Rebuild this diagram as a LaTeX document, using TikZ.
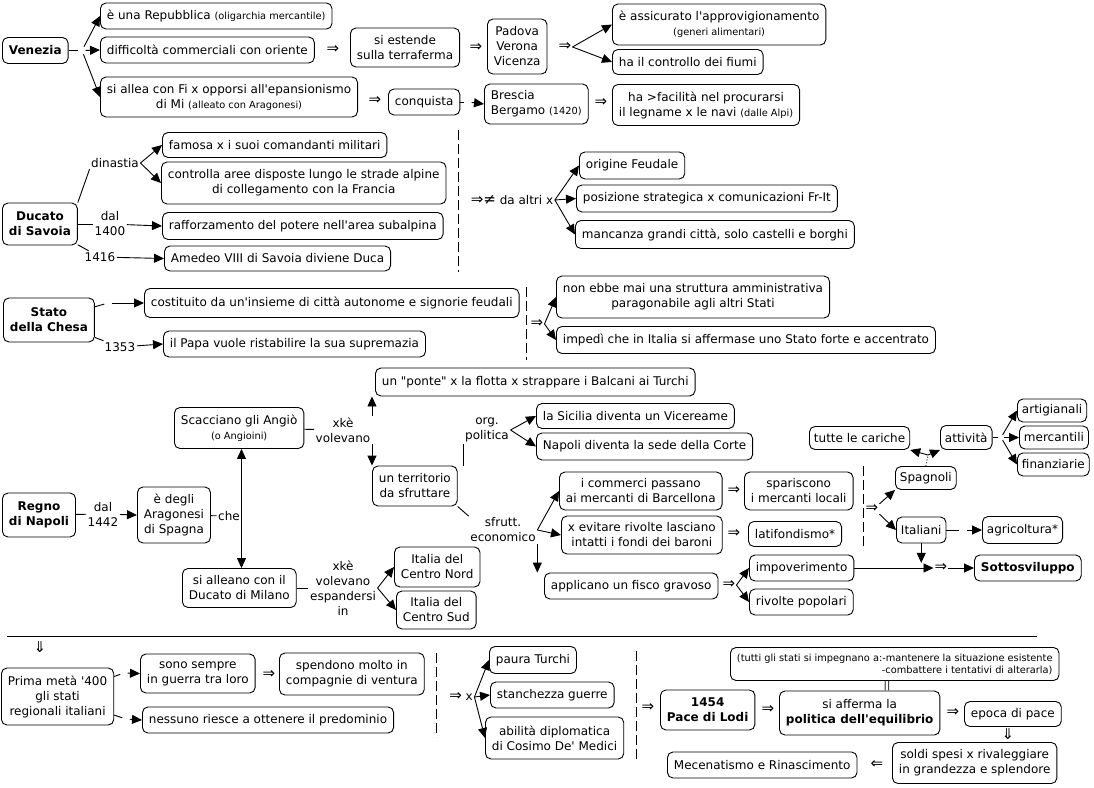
\documentclass[tikz,border=0pt]{standalone}
\usepackage{fontspec}
\setmainfont{DejaVu Sans}[Ligatures=TeXOff]
\usetikzlibrary{arrows.meta}
\newcommand{\smtxt}[1]{{\fontsize{9.8}{11.5}\selectfont #1}}
\newcommand{\bigsym}[1]{{\fontsize{15}{15}\selectfont #1}}
\begin{document}
\begin{tikzpicture}[x=1pt,y=-1pt,
  font=\fontsize{12}{15}\selectfont,
  box/.style={draw, rounded corners=5.5pt, inner xsep=6.5pt, inner ysep=3pt, minimum height=26pt, align=center, line width=0.9pt, anchor=west},
  bx/.style={font=\fontsize{12}{15}\selectfont\bfseries},
  tight/.style={inner xsep=4.5pt},
  lab/.style={inner sep=1.5pt, align=center},
  jn/.style={inner sep=0pt, minimum size=7pt},
  arr/.style={line width=0.9pt, -{Triangle[length=10pt,width=9pt]}},
  ln/.style={line width=0.9pt},
  sep/.style={line width=0.9pt, dash pattern=on 10pt off 4pt},
  sym/.style={inner sep=1pt, font=\fontsize{15}{15}\selectfont}]
\useasboundingbox (0,0) rectangle (1094,787);

% ===== Venezia =====
\node[box,bx] (ven) at (2,50.5) {Venezia};
\node[box] (rep) at (100,16) {è una Repubblica \smtxt{(oligarchia mercantile)}};
\node[box] (dif) at (100,50) {difficoltà commerciali con oriente};
\node[box,minimum height=40pt] (all) at (100,97) {si allea con Fi x opporsi all'epansionismo\\di Mi \smtxt{(alleato con Aragonesi)}};
\node[jn] (vj) at (82,50.5) {};
\draw[ln] (ven) -- (vj);
\draw[arr] (vj) -- (rep.west);
\draw[arr] (vj) -- (dif.west);
\draw[arr] (vj) -- (all.west);
\node[sym] (d1) at (333,50) {⇒};
\node[box,minimum height=39pt] (est) at (350,47.5) {si estende\\sulla terraferma};
\node[sym] (d2) at (476,48) {⇒};
\node[box,minimum height=55pt] (pad) at (487,46.5) {Padova\\Verona\\Vicenza};
\node[sym] (d3) at (565,47) {⇒};
\node[box,minimum height=41pt] (ass) at (612,24.5) {è assicurato l'approvigionamento\\\smtxt{(generi alimentari)}};
\node[box,minimum height=25pt] (fiu) at (612,62) {ha il controllo dei fiumi};
\draw[arr] (d3.east) -- (ass.west);
\draw[arr] (d3.east) -- (fiu.west);
\node[sym] (d4) at (375,101) {⇒};
\node[box] (conq) at (388,102) {conquista};
\node[box,minimum height=40pt,align=left] (bre) at (484,104) {Brescia\\Bergamo \smtxt{(1420)}};
\node[jn] (cj) at (468,102) {};
\draw[ln] (conq) -- (cj);
\draw[arr] (cj) -- (bre.west);
\node[sym] (d5) at (601,103) {⇒};
\node[box,minimum height=41pt] (leg) at (612,105) {ha >facilità nel procurarsi\\il legname x le navi \smtxt{(dalle Alpi)}};

% ===== Savoia =====
\node[box,bx,minimum height=42pt] (sav) at (2,224) {Ducato\\di Savoia};
\node[lab] (din) at (115,163) {dinastia};
\node[box,minimum height=25pt] (fam) at (162,145) {famosa x i suoi comandanti militari};
\node[box,minimum height=42pt] (con) at (161,183) {controlla aree disposte lungo le strade alpine\\di collegamento con la Francia};
\node[lab] (d14) at (110,224) {dal\\1400};
\node[box,minimum height=27pt] (raf) at (162,226) {rafforzamento del potere nell'area subalpina};
\node[lab] (l1416) at (100,257) {1416};
\node[box,minimum height=25pt] (ame) at (164,258.5) {Amedeo VIII di Savoia diviene Duca};
\draw[ln] (sav.north east) -- (din.south west);
\draw[arr] (din.east) -- (fam.west);
\draw[arr] (din.east) -- (con.west);
\draw[ln] (sav) -- (d14);
\draw[arr] (d14) -- (raf.west);
\draw[ln] (sav) -- (l1416);
\draw[arr] (l1416) -- (ame.west);
\draw[sep] (458,130) -- (458,272);
\node[lab] (dax) at (512,200) {\bigsym{⇒≠} da altri x};
\node[box,minimum height=27pt] (ori) at (579,165.5) {origine Feudale};
\node[box,minimum height=27pt] (pos) at (576,198.5) {posizione strategica x comunicazioni Fr-It};
\node[box,minimum height=28pt] (man) at (575,234.5) {mancanza grandi città, solo castelli e borghi};
\draw[arr] (dax.east) -- (ori.west);
\draw[arr] (dax.east) -- (pos.west);
\draw[arr] (dax.east) -- (man.west);

% ===== Stato della Chiesa =====
\node[box,bx,minimum height=44pt] (sta) at (3,320) {Stato\\della Chesa};
\node[jn] (cj3) at (108,303) {};
\node[box,minimum height=29pt] (cos) at (144,303) {costituito da un'insieme di città autonome e signorie feudali};
\node[lab] (l1353) at (120,347) {1353};
\node[box] (pap) at (163,344) {il Papa vuole ristabilire la sua supremazia};
\draw[ln] (sta) -- (cj3);
\draw[arr] (cj3) -- (cos.west);
\draw[ln] (sta) -- (l1353);
\draw[arr] (l1353) -- (pap.west);
\draw[sep] (526,287) -- (526,360);
\node[sym] (s3) at (537,324) {⇒};
\node[box,minimum height=42pt] (non) at (556,297) {non ebbe mai una struttura amministrativa\\paragonabile agli altri Stati};
\node[box,minimum height=27pt] (imp) at (556,340) {impedì che in Italia si affermase uno Stato forte e accentrato};
\draw[arr] (s3.east) -- (non.west);
\draw[arr] (s3.east) -- (imp.west);

% ===== Regno di Napoli =====
\node[box,bx,minimum height=44pt] (reg) at (2,515) {Regno\\di Napoli};
\node[lab] (d42) at (103,514) {dal\\1442};
\node[box,minimum height=56pt] (ara) at (137,515) {è degli\\Aragonesi\\di Spagna};
\draw[ln] (reg) -- (d42);
\draw[arr] (d42) -- (ara.west);
\node[lab] (che) at (229,516) {che};
\node[box,minimum height=41pt] (sca) at (174,428) {Scacciano gli Angiò\\\smtxt{(o Angioini)}};
\node[box,minimum height=39pt] (mil) at (182,588) {si alleano con il\\Ducato di Milano};
\draw[ln] (ara) -- (che);
\draw[arr] (che.east) -- (che.east |- sca.south);
\draw[arr] (che.east) -- (che.east |- mil.north);
\node[lab] (xk) at (343,430) {xkè\\volevano};
\node[box,minimum height=28pt] (pon) at (375,382) {un "ponte" x la flotta x strappare i Balcani ai Turchi};
\node[box,minimum height=40pt] (ter) at (372,486) {un territorio\\da sfruttare};
\draw[ln] (sca) -- (xk);
\draw[arr] (xk.north east) -- (xk.north east |- pon.south);
\draw[arr] (xk.south east) -- (xk.south east |- ter.north);
\node[lab] (ml) at (343,588) {xkè\\volevano\\espandersi\\in};
\node[box,minimum height=40pt] (cn) at (394,567) {Italia del\\Centro Nord};
\node[box,minimum height=38pt] (cs) at (396,610) {Italia del\\Centro Sud};
\draw[ln] (mil) -- (ml);
\draw[arr] (ml.east) -- (cn.west);
\draw[arr] (ml.east) -- (cs.west);
\node[lab] (op) at (487,430) {org.\\politica};
\node[box,minimum height=25pt] (sic) at (536,416) {la Sicilia diventa un Vicereame};
\node[box,minimum height=27pt] (nap) at (536,446.5) {Napoli diventa la sede della Corte};
\draw[ln] (op.south west) -- (op.south west |- ter.north);
\draw[arr] (op.east) -- (sic.west);
\draw[arr] (op.east) -- (nap.west);
\node[lab] (sf) at (503,530) {sfrutt.\\economico};
\draw[ln] (ter.south east) -- (sf.north west);
\node[box,minimum height=38pt] (com) at (559,491) {i commerci passano\\ai mercanti di Barcellona};
\node[box,minimum height=38pt] (evi) at (561,535) {x evitare rivolte lasciano\\intatti i fondi dei baroni};
\node[box] (fis) at (544,586) {applicano un fisco gravoso};
\draw[arr] (sf.east) -- (com.west);
\draw[arr] (sf.east) -- (evi.west);
\draw[arr] (sf.south east) -- (sf.south east |- fis.north);
\node[sym] (c2) at (734,491) {⇒};
\node[box,minimum height=38pt] (spa) at (744,491) {spariscono\\i mercanti locali};
\node[sym] (e2) at (734,534) {⇒};
\node[box,minimum height=25pt] (lat) at (748,534) {latifondismo*};
\node[sym] (f2) at (729,585) {⇒};
\node[box] (impv) at (749,568) {impoverimento};
\node[box] (riv) at (749,602) {rivolte popolari};
\draw[arr] (f2.east) -- (impv.west);
\draw[arr] (f2.east) -- (riv.west);
\draw[sep] (863,466) -- (863,550);
\node[sym] (n2) at (872,509) {⇒};
\node[box,tight,minimum height=23pt] (spg) at (895,478) {Spagnoli};
\node[box,tight] (ita) at (896,530) {Italiani};
\draw[arr] (n2.north east) -- (spg.south west);
\draw[arr] (n2.south east) -- (ita.west);
\node[box,tight,minimum height=27pt] (agr) at (982,530) {agricoltura*};
\node[jn] (ij) at (963,530) {};
\draw[ln] (ita) -- (ij);
\draw[arr] (ij) -- (agr.west);
\node[sym] (sv) at (941,568) {⇒};
\node[box,bx] (sot) at (974,568) {Sottosviluppo};
\draw[arr] (impv) -- (sv);
\draw[arr] (ita.south) -- (ita.south |- sv.north);
\draw[arr] (sv) -- (sot.west);
\coordinate (sj) at (928,455);
\node[box,tight,minimum height=23pt] (car) at (809,438) {tutte le cariche};
\node[box,tight,minimum height=24pt] (att) at (940,437.5) {attività};
\draw[ln,dotted] (spg.north) -- (sj);
\draw[arr] (sj) -- (car.south east);
\draw[arr] (sj) -- (att.south west);
\node[jn,minimum size=5pt] (aj) at (1001,437.5) {};
\node[box,tight,minimum height=23pt] (art) at (1017,410.5) {artigianali};
\node[box,tight,minimum height=23pt] (mer) at (1019,437.5) {mercantili};
\node[box,tight,minimum height=23pt] (fin) at (1017,464.5) {finanziarie};
\draw[ln] (att) -- (aj);
\draw[arr] (aj) -- (art.west);
\draw[arr] (aj) -- (mer.west);
\draw[arr] (aj) -- (fin.west);

% ===== rule =====
\draw[line width=0.6pt] (7,636) -- (1037,636);

% ===== Prima meta '400 =====
\node[sym] (dd1) at (40,647) {⇓};
\node[box,minimum height=57pt] (pri) at (1,696.5) {Prima metà '400\\gli stati\\regionali italiani};
\node[jn] (j5a) at (124,673) {};
\node[jn] (j5b) at (126,719) {};
\node[box,minimum height=39pt] (sono) at (140,673.5) {sono sempre\\in guerra tra loro};
\node[box] (nes) at (142,720) {nessuno riesce a ottenere il predominio};
\draw[ln] (pri) -- (j5a);
\draw[arr] (j5a) -- (sono.west);
\draw[ln] (pri) -- (j5b);
\draw[arr] (j5b) -- (nes.west);
\node[sym] (g1) at (269,675) {⇒};
\node[box,minimum height=42pt] (spe) at (279,674) {spendono molto in\\compagnie di ventura};
\draw[sep] (436,653) -- (436,737);
\node[lab] (xx) at (461,697) {\bigsym{⇒} x};
\node[box,minimum height=27pt] (pau) at (489,660) {paura Turchi};
\node[box] (sta2) at (490,695) {stanchezza guerre};
\node[box,minimum height=42pt] (abi) at (485,738) {abilità diplomatica\\di Cosimo De' Medici};
\draw[arr] (xx.east) -- (pau.west);
\draw[arr] (xx.east) -- (sta2.west);
\draw[arr] (xx.east) -- (abi.west);
\draw[sep] (636,651) -- (636,760);
\node[sym] (g2) at (648,708) {⇒};
\node[box,bx,minimum height=40pt] (pace) at (660,710) {1454\\Pace di Lodi};
\node[sym] (g3) at (768,710) {⇒};
\node[box,minimum height=44pt] (pol) at (779,713) {si afferma la\\\textbf{politica dell'equilibrio}};
\node[box,minimum height=33pt,align=right,font=\fontsize{9.8}{12}\selectfont] (tut) at (730,664) {(tutti gli stati si impegnano a:-mantenere la situazione esistente\\-combattere i tentativi di alterarla)};
\node[inner sep=1pt,font=\fontsize{10}{12}\selectfont] (eq) at (887,685.5) {||};
\node[sym] (g4) at (953,713) {⇒};
\node[box,minimum height=25pt] (epo) at (964,714) {epoca di pace};
\node[sym] (g5) at (1008,734) {⇓};
\node[box,minimum height=41pt] (sol) at (892,763) {soldi spesi x rivaleggiare\\in grandezza e splendore};
\node[sym] (g6) at (877,765) {⇐};
\node[box] (mec) at (667,765) {Mecenatismo e Rinascimento};
\end{tikzpicture}
\end{document}
